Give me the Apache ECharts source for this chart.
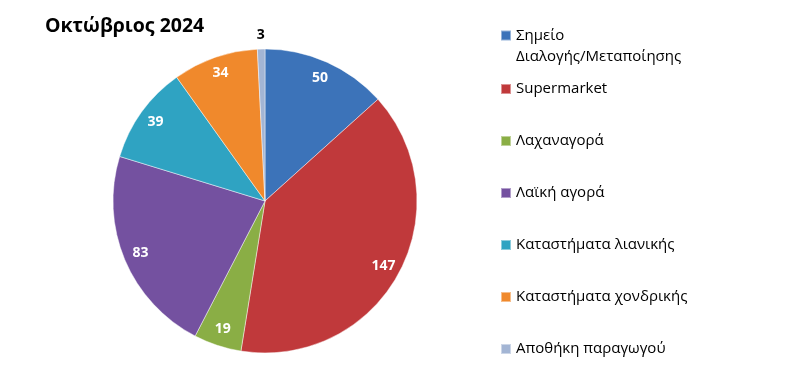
<!DOCTYPE html>
<html><head><meta charset="utf-8">
<script src="https://cdn.jsdelivr.net/npm/echarts@6/dist/echarts.min.js"></script>
<style>html,body{margin:0;padding:0;background:#fff}#c{width:798px;height:382px}</style>
</head><body><div id="c"></div>
<script>
const titleText = 'Οκτώβριος 2024';
const categories = ['Σημείο Διαλογής/Μεταποίησης','Supermarket','Λαχαναγορά','Λαϊκή αγορά','Καταστήματα λιανικής','Καταστήματα χονδρικής','Αποθήκη παραγωγού'];
const values = [50, 147, 19, 83, 39, 34, 3];
const colors = ['#3c73b9','#c0393b','#8aae45','#7451a0','#2fa3c2','#f0892c','#a3b5d4'];
const outsideLabelIdx = [6];

const chart = echarts.init(document.getElementById('c'), null, {renderer:'canvas'});
const center = [265, 201];
const R = 152;
const mainData = categories.map((n,i)=>({name:n, value:values[i], itemStyle:{color: colors[i]}}));
const fontFam = '"Open Sans","Noto Sans",sans-serif';
chart.setOption({
  animation:false,
  color: colors,
  title:{text:titleText, left:40, top:11, textStyle:{fontFamily:fontFam, fontSize:19.5, fontWeight:'bold', color:'#000'}},
  legend:[
    {orient:'vertical', left:500, top:4, padding:0, itemWidth:10, itemHeight:10, icon:'rect',
     data:[categories[0]],
     formatter: n => '\n' + n.replace(' ', '\n'),
     textStyle:{fontFamily:fontFam, fontSize:15, lineHeight:21, color:'#000'}, selectedMode:false},
    {orient:'vertical', left:500, top:79, padding:0, itemWidth:10, itemHeight:10, icon:'rect', itemGap:32,
     data: categories.slice(1),
     textStyle:{fontFamily:fontFam, fontSize:15, lineHeight:20, color:'#000'}, selectedMode:false}
  ],
  series:[
    {type:'pie', center:center, radius:[0,R], startAngle:90, clockwise:true, silent:true,
     data: mainData, label:{show:false}, labelLine:{show:false},
     itemStyle:{borderColor:'rgba(255,255,255,0.45)', borderWidth:1}},
    {type:'pie', center:center, radius:[R-40,R], startAngle:90, clockwise:true, silent:true,
     legendHoverLink:false,
     data: categories.map((n,i)=>({name:n, value:values[i], label:{show: !outsideLabelIdx.includes(i)}})),
     itemStyle:{color:'rgba(0,0,0,0)'},
     label:{show:true, position:'inside', formatter:'{c}', color:'#fff', fontFamily:fontFam, fontWeight:'bold', fontSize:14},
     labelLine:{show:false}},
    {type:'pie', center:center, radius:[R,R+22], startAngle:90, clockwise:true, silent:true,
     legendHoverLink:false,
     data: categories.map((n,i)=>({name:n, value:values[i], label:{show: outsideLabelIdx.includes(i)}})),
     itemStyle:{color:'rgba(0,0,0,0)'},
     label:{show:true, position:'inside', formatter:'{c}', color:'#000', fontFamily:fontFam, fontWeight:'bold', fontSize:14},
     labelLine:{show:false}}
  ]
});
</script></body></html>
